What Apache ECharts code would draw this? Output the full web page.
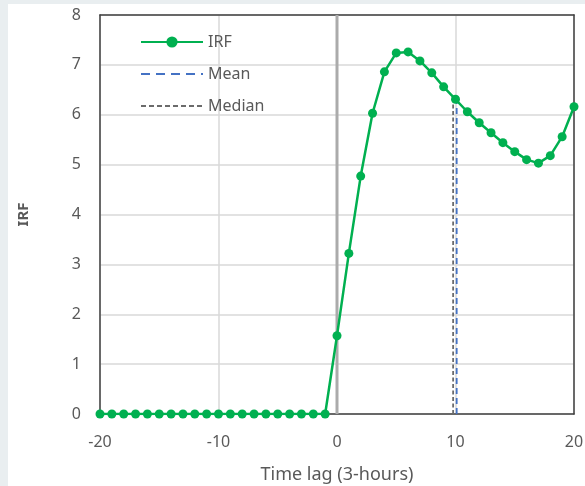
<!DOCTYPE html>
<html><head><meta charset="utf-8">
<script src="https://cdn.jsdelivr.net/npm/echarts@6/dist/echarts.min.js"></script>
<style>
html,body{margin:0;padding:0;background:#e9eef0;width:585px;height:486px;overflow:hidden;}
#c{position:absolute;left:8px;top:4px;width:577px;height:482px;background:#fff;}
</style></head><body>
<div id="c"></div>
<script>
var lags = [-20,-19,-18,-17,-16,-15,-14,-13,-12,-11,-10,-9,-8,-7,-6,-5,-4,-3,-2,-1,0,1,2,3,4,5,6,7,8,9,10,11,12,13,14,15,16,17,18,19,20];
var irf = [0,0,0,0,0,0,0,0,0,0,0,0,0,0,0,0,0,0,0,0,1.57,3.22,4.77,6.03,6.86,7.24,7.26,7.08,6.84,6.56,6.31,6.06,5.84,5.64,5.44,5.26,5.10,5.03,5.18,5.56,6.16];
var meanLag = 10.1, medianLag = 9.8, lineTop = 6.3;
var xTicks = [-20,-10,0,10,20];
var yTicks = [0,1,2,3,4,5,6,7,8];

var chart = echarts.init(document.getElementById('c'), null, {renderer:'canvas'});
var font = 'Noto Sans';
var txt = '#595959';
var frame = {show:true,onZero:false,lineStyle:{color:'#404040',width:1.5}};
chart.setOption({
  animation:false,
  grid:{left:92,top:11,right:11,bottom:72,outerBoundsMode:'none',containLabel:false},
  legend:{
    orient:'vertical',left:127,top:25,itemWidth:62,itemHeight:14,itemGap:16,
    textStyle:{color:txt,fontFamily:font,fontSize:16},
    data:[{name:'IRF'},
          {name:'Mean',itemStyle:{opacity:0},lineStyle:{type:[9,6],width:2}},
          {name:'Median',itemStyle:{opacity:0},lineStyle:{type:[5,3],width:2}}]
  },
  xAxis:[{
    type:'value',min:xTicks[0],max:xTicks[xTicks.length-1],interval:10,
    name:'Time lag (3-hours)',nameLocation:'middle',nameGap:52,
    nameTextStyle:{color:txt,fontFamily:font,fontSize:18},
    axisLine:frame,axisTick:{show:false},
    axisLabel:{color:txt,fontFamily:font,fontSize:16,margin:20},
    splitLine:{show:true,lineStyle:{color:'#d9d9d9',width:1.5}}
  },{
    type:'value',position:'top',min:xTicks[0],max:xTicks[xTicks.length-1],interval:10,
    axisLine:frame,axisTick:{show:false},axisLabel:{show:false},splitLine:{show:false}
  }],
  yAxis:[{
    type:'value',min:yTicks[0],max:yTicks[yTicks.length-1],interval:1,
    name:'IRF',nameLocation:'middle',nameGap:69,
    nameTextStyle:{color:txt,fontFamily:font,fontSize:15,fontWeight:'bold'},
    axisLine:frame,axisTick:{show:false},
    axisLabel:{color:txt,fontFamily:font,fontSize:16,margin:19},
    splitLine:{show:true,lineStyle:{color:'#d9d9d9',width:1.5}}
  },{
    type:'value',position:'right',min:yTicks[0],max:yTicks[yTicks.length-1],interval:1,
    axisLine:frame,axisTick:{show:false},axisLabel:{show:false},splitLine:{show:false}
  }],
  series:[
    {name:'zero',type:'line',data:[[0,yTicks[0]],[0,yTicks[yTicks.length-1]]],symbol:'none',silent:true,
     lineStyle:{color:'#ababab',width:3},z:1},
    {name:'Median',type:'line',data:[[medianLag,0],[medianLag,lineTop]],symbol:'none',
     lineStyle:{color:'#6b6b6b',width:1.8,type:[4,2.5]},itemStyle:{color:'#6b6b6b'},z:2},
    {name:'Mean',type:'line',data:[[meanLag,0],[meanLag,lineTop]],symbol:'none',
     lineStyle:{color:'#4472c4',width:1.8,type:[6,4]},itemStyle:{color:'#4472c4'},z:2},
    {name:'IRF',type:'line',data:lags.map(function(l,i){return [l,irf[i]];}),
     symbol:'circle',symbolSize:9,
     lineStyle:{color:'#00b050',width:2.5},itemStyle:{color:'#00b050'},z:3}
  ]
});
</script>
</body></html>
